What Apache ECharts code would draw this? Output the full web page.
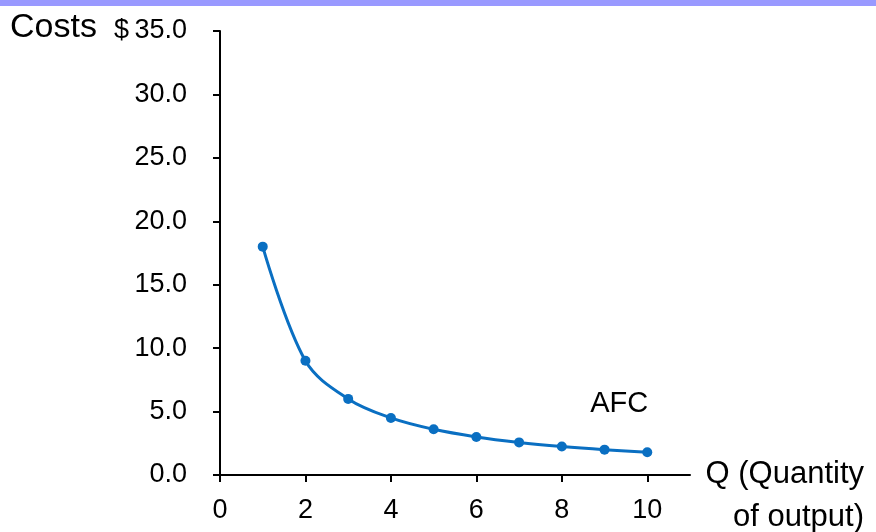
<!DOCTYPE html>
<html>
<head>
<meta charset="utf-8">
<script src="https://cdn.jsdelivr.net/npm/echarts@6/dist/echarts.min.js"></script>
<style>html,body{margin:0;padding:0;background:#fff}#c{width:876px;height:532px}</style>
</head>
<body>
<div id="c"></div>
<script>
const quantities = [1, 2, 3, 4, 5, 6, 7, 8, 9, 10];
const afcValues = [18.0, 9.0, 6.0, 4.5, 3.6, 3.0, 2.57, 2.25, 2.0, 1.8];
const xTicks = [0, 2, 4, 6, 8, 10];
const seriesName = 'AFC';
const yLabelName = 'Costs';
const xLabelLines = ['Q (Quantity', 'of output)'];

const FONT = 'Liberation Sans';
const chart = echarts.init(document.getElementById('c'));
const data = quantities.map((q, i) => {
  const d = { value: [q, afcValues[i]] };
  if (i === quantities.length - 1) {
    d.label = { show: true, formatter: seriesName, position: 'top', offset: [-28, -24],
      fontFamily: FONT, fontSize: 29, color: '#000' };
  }
  return d;
});
chart.setOption({
  animation: false,
  grid: { left: 220, right: 186, top: 31, bottom: 57, containLabel: false },
  xAxis: {
    type: 'value', min: 0, max: 11,
    axisLine: { lineStyle: { color: '#000', width: 2 } },
    axisTick: { show: true, length: 7, lineStyle: { color: '#000', width: 2 }, customValues: xTicks },
    axisLabel: { customValues: xTicks, margin: 22, fontFamily: FONT, fontSize: 27, color: '#000' },
    splitLine: { show: false }
  },
  yAxis: {
    type: 'value', min: 0, max: 35, interval: 5,
    axisLine: { show: true, lineStyle: { color: '#000', width: 2 } },
    axisTick: { show: true, length: 7, lineStyle: { color: '#000', width: 2 } },
    axisLabel: { margin: 33, fontFamily: FONT, fontSize: 27, color: '#000',
      formatter: v => (v === 35 ? '$\u2009' : '') + v.toFixed(1) },
    splitLine: { show: false }
  },
  graphic: [
    { type: 'rect', left: 0, top: 0, shape: { width: 876, height: 6 }, style: { fill: '#9999ff' } },
    { type: 'text', left: 10, top: 11, style: { text: yLabelName, fontFamily: FONT, fontSize: 34, fill: '#000' } },
    { type: 'text', right: 12, top: 459, style: { text: xLabelLines[0], fontFamily: FONT, fontSize: 31, fill: '#000' } },
    { type: 'text', right: 12, top: 502, style: { text: xLabelLines[1], fontFamily: FONT, fontSize: 31, fill: '#000' } }
  ],
  series: [{
    type: 'line', name: seriesName, data: data, smooth: 0.35,
    symbol: 'circle', symbolSize: 10,
    lineStyle: { color: '#0a6fc2', width: 3 },
    itemStyle: { color: '#0a6fc2' }
  }]
});
</script>
</body>
</html>
